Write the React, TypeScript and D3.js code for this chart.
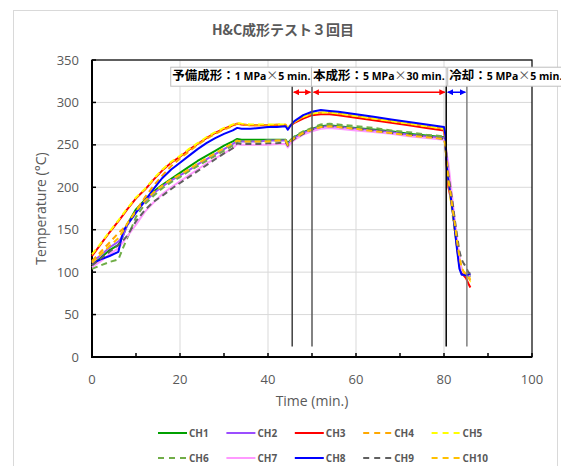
import * as d3 from 'd3'
import { useEffect, useRef } from 'react'

// time axis (min.)
const time = [
  0, 2, 4, 6, 7, 8,
  10, 12, 14, 16, 18, 20, 22, 24, 26, 28, 30, 32,
  33, 34,
  36, 38, 40, 42, 44,
  44.5, 45, 46, 48, 50,
  52, 54, 56,
  60, 64, 68, 72, 76, 80,
  80.3, 80.6, 81, 81.5, 82, 82.5, 83, 83.5, 84, 84.5, 85, 85.5, 86
]

const ch1 = [108, 117, 126, 132, 142, 156, 174, 185, 195, 203, 210, 217, 224, 231, 237, 243, 249, 254, 257, 256, 256, 256, 256, 256, 256, 252, 255, 259, 265, 269, 272, 273, 272, 270, 268, 266, 263, 261, 259,
  252, 230, 212, 195, 175, 152, 132, 112, 100, 98, 97, 96, 95]
const ch2 = [112, 120, 129, 136, 142, 155, 171, 183, 193, 201, 208, 214, 220, 227, 233, 239, 245, 251, 255, 254, 254, 254, 255, 255, 255, 250, 254, 258, 264, 268, 271, 272, 271, 269, 267, 265, 262, 260, 258,
  250, 235, 215, 196, 177, 155, 135, 115, 101, 98, 97, 96, 95]
const ch3 = [119, 133, 147, 160, 167, 174, 187, 197, 209, 220, 229, 236, 244, 251, 258, 264, 269, 273, 275, 274, 273, 273, 273, 273, 273, 269, 272, 276, 281, 285, 286, 286, 285, 282, 279, 276, 273, 270, 267,
  255, 225, 200, 188, 172, 150, 128, 108, 99, 96, 93, 87, 82]
const ch4 = [113, 124, 135, 146, 151, 157, 172, 188, 202, 214, 225, 234, 242, 250, 257, 263, 268, 272, 275, 274, 273, 273, 273, 274, 274, 270, 273, 277, 283, 287, 288, 288, 287, 284, 281, 278, 275, 272, 269,
  258, 232, 205, 190, 170, 152, 128, 114, 104, 100, 98, 94, 90]
const ch5 = [121, 134, 148, 161, 168, 175, 188, 198, 210, 221, 230, 237, 245, 252, 259, 265, 270, 274, 276, 275, 274, 274, 274, 274, 274, 270, 273, 277, 283, 287, 288, 288, 287, 284, 281, 278, 275, 272, 269,
  258, 235, 210, 185, 165, 145, 130, 115, 105, 99, 97, 92, 88]
const ch6 = [104, 108, 112, 115, 128, 140, 165, 180, 190, 199, 206, 212, 219, 225, 231, 237, 243, 249, 254, 254, 254, 254, 255, 255, 256, 251, 255, 260, 266, 270, 274, 275, 274, 272, 270, 267, 265, 262, 260,
  250, 232, 212, 194, 172, 150, 130, 112, 102, 99, 98, 97, 96]
const ch7 = [106, 113, 121, 128, 135, 142, 156, 171, 182, 192, 200, 207, 214, 221, 228, 234, 240, 246, 251, 250, 250, 250, 250, 251, 251, 247, 251, 256, 262, 266, 269, 270, 269, 267, 265, 263, 260, 258, 256,
  252, 240, 228, 205, 182, 158, 138, 118, 103, 99, 98, 97, 96]
const ch8 = [110, 115, 119, 124, 147, 156, 170, 184, 198, 211, 221, 229, 237, 245, 252, 258, 263, 267, 270, 269, 269, 270, 271, 271, 272, 268, 272, 278, 285, 289, 291, 290, 289, 286, 283, 280, 277, 274, 271,
  262, 228, 208, 190, 170, 148, 125, 104, 97, 97, 96, 97, 98]
const ch9 = [108, 116, 124, 132, 137, 143, 160, 173, 183, 190, 198, 205, 212, 219, 226, 233, 240, 246, 252, 251, 251, 251, 252, 252, 253, 249, 253, 257, 263, 268, 271, 272, 271, 269, 267, 264, 262, 260, 257,
  252, 235, 215, 198, 180, 160, 142, 125, 115, 110, 106, 100, 98]
const ch10 = [111, 121, 131, 140, 148, 157, 172, 184, 194, 202, 209, 215, 221, 228, 234, 240, 246, 252, 255, 254, 254, 254, 254, 255, 255, 250, 254, 258, 264, 268, 271, 272, 271, 269, 266, 264, 261, 259, 257,
  250, 230, 208, 192, 172, 155, 135, 118, 106, 100, 98, 95, 92]

const seriesNames = ['CH1', 'CH2', 'CH3', 'CH4', 'CH5', 'CH6', 'CH7', 'CH8', 'CH9', 'CH10']
const seriesValues = [ch1, ch2, ch3, ch4, ch5, ch6, ch7, ch8, ch9, ch10]
const seriesColors = ['#00a000', '#9b4dff', '#ff0000', '#ffa800', '#ffff00', '#70ad47', '#ff99ff', '#0000ff', '#606060', '#ffc000']
const seriesDashed = [false, false, false, true, true, true, false, false, true, true]

const yTicks = [0, 50, 100, 150, 200, 250, 300, 350]
const xTicks = [0, 20, 40, 60, 80, 100]

// process stages
const stageStart = [45.5, 50, 80.5]
const stageEnd = [50, 80.5, 85.2]
const stageJp = ['予備成形：', '本成形：', '冷却：']
const stageP = ['1 MPa', '5 MPa', '5 MPa']
const stageT = ['5 min.', '30 min.', '5 min.']
const stageColors = ['#ff0000', '#ff0000', '#0000ff']
const stageLineColors = ['#404040', '#595959', '#000000', '#7f7f7f']

const W = 561
const H = 466
const GREY = '#595959'
const FONT = "'Open Sans', 'Noto Sans CJK JP', sans-serif"
const JP = "'Noto Sans CJK JP', sans-serif"

const App = () => {
  const ref = useRef<SVGSVGElement>(null)

  useEffect(() => {
    if (!ref.current) return
    const svg = d3.select(ref.current)
    svg.selectAll('*').remove()

    const left = 92, right = 532, top = 60, bottom = 357

    const x = d3.scaleLinear().domain([0, 100]).range([left, right])
    const y = d3.scaleLinear().domain([0, 350]).range([bottom, top])

    // chart border
    svg.append('rect')
      .attr('x', 13.5).attr('y', 10.5)
      .attr('width', 544).attr('height', 470)
      .attr('fill', '#fff').attr('stroke', '#d9d9d9')

    // title
    svg.append('text')
      .attr('x', 283).attr('y', 35)
      .attr('text-anchor', 'middle')
      .style('font-family', JP)
      .style('font-size', '14px')
      .style('font-weight', 'bold')
      .style('fill', GREY)
      .text('H&C成形テスト３回目')

    // gridlines
    svg.append('g').selectAll('line')
      .data(yTicks.slice(1))
      .enter().append('line')
      .attr('x1', left).attr('x2', right)
      .attr('y1', d => y(d)).attr('y2', d => y(d))
      .attr('stroke', '#d9d9d9')
    svg.append('g').selectAll('line')
      .data(xTicks.slice(1, -1))
      .enter().append('line')
      .attr('x1', d => x(d)).attr('x2', d => x(d))
      .attr('y1', top).attr('y2', bottom)
      .attr('stroke', '#d9d9d9')

    // plot frame
    svg.append('rect')
      .attr('x', left).attr('y', top)
      .attr('width', right - left).attr('height', bottom - top)
      .attr('fill', 'none').attr('stroke', '#000').attr('stroke-width', 1.2)
    svg.append('path')
      .attr('d', `M${left},${top}V${bottom}H${right}`)
      .attr('fill', 'none').attr('stroke', '#000').attr('stroke-width', 2)

    // inner ticks
    svg.append('g').selectAll('line')
      .data(d3.range(0, 101, 10))
      .enter().append('line')
      .attr('x1', d => x(d)).attr('x2', d => x(d))
      .attr('y1', bottom).attr('y2', bottom - 4)
      .attr('stroke', '#000').attr('stroke-width', 1.5)
    svg.append('g').selectAll('line')
      .data(yTicks)
      .enter().append('line')
      .attr('x1', left).attr('x2', left + 4)
      .attr('y1', d => y(d)).attr('y2', d => y(d))
      .attr('stroke', '#000').attr('stroke-width', 1.5)

    // tick labels
    svg.append('g').selectAll('text')
      .data(yTicks)
      .enter().append('text')
      .attr('x', 79).attr('y', d => y(d))
      .attr('dy', '0.35em')
      .attr('text-anchor', 'end')
      .style('font-family', FONT).style('font-size', '13px').style('fill', GREY)
      .text(d => d)
    svg.append('g').selectAll('text')
      .data(xTicks)
      .enter().append('text')
      .attr('x', d => x(d)).attr('y', 384)
      .attr('text-anchor', 'middle')
      .style('font-family', FONT).style('font-size', '13px').style('fill', GREY)
      .text(d => d)

    // axis titles
    svg.append('text')
      .attr('transform', `translate(46,${(top + bottom) / 2}) rotate(-90)`)
      .attr('text-anchor', 'middle')
      .style('font-family', FONT).style('font-size', '14px').style('fill', GREY)
      .text('Temperature (°C)')
    svg.append('text')
      .attr('x', x(50)).attr('y', 406)
      .attr('text-anchor', 'middle')
      .style('font-family', FONT).style('font-size', '14px').style('fill', GREY)
      .text('Time (min.)')

    // series
    const line = d3.line<number>()
      .defined(d => d != null && !isNaN(d))
      .x((_, i) => x(time[i]))
      .y(d => y(d))

    seriesValues.forEach((vals, i) => {
      svg.append('path')
        .datum(vals)
        .attr('fill', 'none')
        .attr('stroke', seriesColors[i])
        .attr('stroke-width', 2)
        .attr('stroke-linejoin', 'round')
        .attr('stroke-dasharray', seriesDashed[i] ? '6,4' : null)
        .attr('d', line)
    })

    // stage marker lines
    const bounds = [...stageStart, stageEnd[stageEnd.length - 1]]
    svg.append('g').selectAll('line')
      .data(bounds)
      .enter().append('line')
      .attr('x1', d => x(d)).attr('x2', d => x(d))
      .attr('y1', y(320)).attr('y2', y(12.5))
      .attr('stroke', (_, i) => stageLineColors[i])
      .attr('stroke-width', 1.5)

    // stage labels
    stageJp.forEach((jp, i) => {
      const g = svg.append('g')
      const box = g.append('rect')
        .attr('fill', '#fff').attr('stroke', '#bfbfbf').attr('stroke-width', 1)
      const t = g.append('text').attr('y', y(326))
      t.append('tspan').text(jp)
        .style('font-family', JP).style('font-size', '12.5px').style('font-weight', 'bold')
      t.append('tspan').text(stageP[i])
        .style('font-family', FONT).style('font-size', '10.5px').style('font-weight', 'bold')
      t.append('tspan').text('×')
        .style('font-family', JP).style('font-size', '12px').style('fill', '#555')
      t.append('tspan').text(stageT[i])
        .style('font-family', FONT).style('font-size', '10.5px').style('font-weight', 'bold')
      const w = (t.node() as SVGTextElement).getComputedTextLength()
      const x0 = i < 2 ? x(stageEnd[i]) - w - 3 : x(stageStart[i]) + 1.5
      t.attr('x', x0 + 1.5)
      box.attr('x', x0).attr('y', y(341.5))
        .attr('width', w + 3).attr('height', 19)
    })

    // double arrows
    const defs = svg.append('defs')
    stageColors.forEach((c, i) => {
      defs.append('marker')
        .attr('id', `arr${i}`)
        .attr('viewBox', '0 0 10 10')
        .attr('refX', 9).attr('refY', 5)
        .attr('markerWidth', 4).attr('markerHeight', 4)
        .attr('orient', 'auto-start-reverse')
        .append('path').attr('d', 'M0,0L10,5L0,10z').attr('fill', c)
    })
    stageStart.forEach((s, i) => {
      svg.append('line')
        .attr('x1', x(s) + 1.5).attr('x2', x(stageEnd[i]) - 1.5)
        .attr('y1', y(312)).attr('y2', y(312))
        .attr('stroke', stageColors[i]).attr('stroke-width', 1.5)
        .attr('marker-start', `url(#arr${i})`)
        .attr('marker-end', `url(#arr${i})`)
    })

    // legend
    const legend = svg.append('g')
    seriesNames.forEach((name, i) => {
      const col = i % 5
      const row = Math.floor(i / 5)
      const lx = 158 + col * 68.4
      const ly = 433 + row * 25
      legend.append('line')
        .attr('x1', lx).attr('x2', lx + 29)
        .attr('y1', ly).attr('y2', ly)
        .attr('stroke', seriesColors[i]).attr('stroke-width', 2)
        .attr('stroke-dasharray', seriesDashed[i] ? '6,5' : null)
      legend.append('text')
        .attr('x', lx + 31).attr('y', ly).attr('dy', '0.35em')
        .style('font-family', FONT).style('font-size', '10px')
        .style('font-weight', 'bold').style('fill', GREY)
        .text(name)
    })
  }, [])

  return (
    <svg
      ref={ref}
      width={W}
      height={H}
      style={{ position: 'absolute', left: 0, top: 0, background: '#fff' }}
    />
  )
}

export default App
